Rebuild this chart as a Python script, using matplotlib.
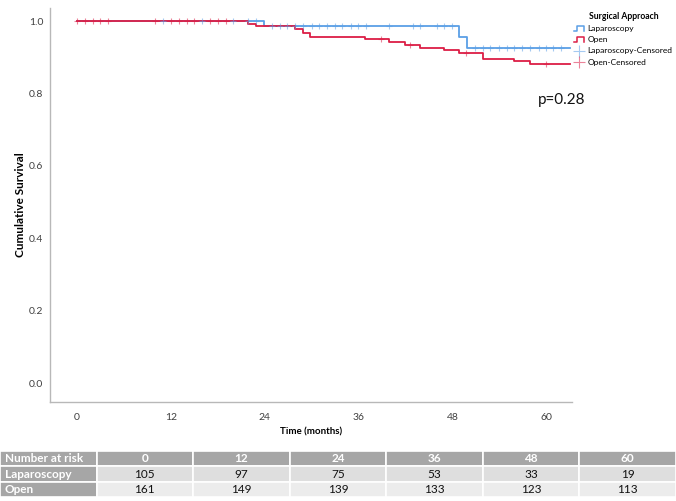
import numpy as np
import matplotlib
matplotlib.use('Agg')
import matplotlib.pyplot as plt
from matplotlib.lines import Line2D
from matplotlib.legend_handler import HandlerBase

plt.rcParams['font.family'] = ['Lato', 'DejaVu Sans']

# ---------------- data ----------------
lap_times = [0, 23.9, 48.8, 49.8]
lap_surv = [1.0, 0.987, 0.957, 0.925]
open_times = [0, 21.8, 22.9, 27.9, 28.9, 29.8, 36.8, 39.9, 41.9, 43.8,
              46.9, 48.8, 51.9, 55.9, 57.9]
open_surv = [1.0, 0.992, 0.986, 0.978, 0.966, 0.957, 0.950, 0.941, 0.934,
             0.926, 0.919, 0.912, 0.896, 0.889, 0.881]
max_time = 63.0
lap_censored = [11, 16, 20, 21.8, 22.9, 24.9, 25.9, 26.9, 27.9, 28.9, 30,
                30.9, 31.9, 33, 33.9, 35, 35.9, 36.9, 39.9, 42.9, 43.8, 46,
                46.9, 47.9, 50.8, 51.9, 52.8, 53.9, 54.9, 55.9, 56.9, 57.9,
                59, 59.9, 60.8, 61.9]
open_censored = [0, 1, 2, 3, 4, 10, 12, 13, 14, 15, 17, 18, 19, 38.9, 42.5,
                 49.7, 59.9]
risk_times = [0, 12, 24, 36, 48, 60]
risk_lap = [105, 97, 75, 53, 33, 19]
risk_open = [161, 149, 139, 133, 123, 113]
group_names = ['Laparoscopy', 'Open']
p_text = 'p=0.28'

BLUE = '#5b9fe6'
RED = '#dc1e45'

W, H = 676, 501
fig = plt.figure(figsize=(W / 100, H / 100), dpi=100)

ax = fig.add_axes([50 / W, 1 - 402 / H, 522 / W, 394 / H])


def surv_at(times, surv, t):
    idx = np.searchsorted(times, t, side='right') - 1
    return np.asarray(surv)[idx]


handles = []
for times, surv, cens, col in [(lap_times, lap_surv, lap_censored, BLUE),
                               (open_times, open_surv, open_censored, RED)]:
    xs = np.append(times, max_time)
    ys = np.append(surv, surv[-1])
    ln, = ax.step(xs, ys, where='post', color=col, lw=1.3, zorder=3)
    handles.append(ln)
    cy = surv_at(times, surv, np.array(cens))
    ax.plot(cens, cy, ls='none', marker='+', ms=5, mew=0.8, color=col,
            alpha=0.55, zorder=4)

ax.set_xlim(-3.45, 63.26)
ax.set_ylim(-0.052, 1.036)
ax.set_xticks(risk_times)
ax.set_yticks([0, 0.2, 0.4, 0.6, 0.8, 1.0])
ax.set_yticklabels(['0.0', '0.2', '0.4', '0.6', '0.8', '1.0'])
ax.tick_params(length=0, labelsize=7.5, colors='#404040', pad=5)
ax.tick_params(axis='x', pad=8)
for s in ['top', 'right']:
    ax.spines[s].set_visible(False)
for s in ['left', 'bottom']:
    ax.spines[s].set_color('#b8b8b8')
    ax.spines[s].set_linewidth(1.0)
ax.set_xlabel('Time (months)', fontsize=7, fontweight='bold', labelpad=4)
ax.set_ylabel('Cumulative Survival', fontsize=8.5, fontweight='bold')
ax.yaxis.set_label_coords((26 - 50) / 522, 0.5)

ax.text((538 - 50) / 522, 1 - (100 - 8) / 394, p_text, transform=ax.transAxes,
        fontsize=11, va='center', ha='left', color='#111111')


class StepHandler(HandlerBase):
    def create_artists(self, legend, orig_handle, xdescent, ydescent, width,
                       height, fontsize, trans):
        x0, y0 = -xdescent, -ydescent
        xs = [x0, x0 + 0.3 * width, x0 + 0.3 * width, x0 + 0.9 * width, x0 + 0.9 * width]
        ys = [y0 + 0.05 * height, y0 + 0.05 * height, y0 + 0.85 * height,
              y0 + 0.85 * height, y0 + 0.05 * height]
        l = Line2D(xs, ys, color=orig_handle.get_color(), lw=1.1)
        l.set_transform(trans)
        return [l]


cens_handles = [Line2D([], [], ls='none', marker='+', ms=8, mew=0.8, color=c, alpha=0.55)
                for c in (BLUE, RED)]
leg = fig.legend(handles + cens_handles,
                 group_names + [g + '-Censored' for g in group_names],
                 loc='upper left', bbox_to_anchor=(574 / W, 1 - 12 / H),
                 frameon=False, fontsize=6.0, title='Surgical Approach',
                 title_fontproperties={'weight': 'bold', 'size': 6.2},
                 handlelength=1.3, handletextpad=0.35, labelspacing=0.5,
                 borderaxespad=0, borderpad=0,
                 handler_map={handles[0]: StepHandler(), handles[1]: StepHandler()})

# ---------------- risk table ----------------
tax = fig.add_axes([0, 1 - 497 / H, 1, 46 / H])
tax.axis('off')
cell_text = [['Number at risk'] + [str(t) for t in risk_times],
             [group_names[0]] + [str(v) for v in risk_lap],
             [group_names[1]] + [str(v) for v in risk_open]]
tbl = tax.table(cellText=cell_text, bbox=[0, 0, 1, 1], cellLoc='center')
tbl.auto_set_font_size(False)
tbl.set_fontsize(8.5)
row_bg = ['#a6a6a6', '#dedede', '#ececec']
for (r, c), cell in tbl.get_celld().items():
    cell.set_edgecolor('white')
    cell.set_linewidth(1.2)
    if r == 0 or c == 0:
        cell.set_facecolor('#a6a6a6')
        cell.get_text().set_color('white')
        cell.get_text().set_fontweight('bold')
    else:
        cell.set_facecolor(row_bg[r])
        cell.get_text().set_color('#111111')
    if c == 0:
        cell._loc = 'left'
        cell.PAD = 0.05
        cell.get_text().set_horizontalalignment('left')

fig.savefig('out.png', dpi=100)
